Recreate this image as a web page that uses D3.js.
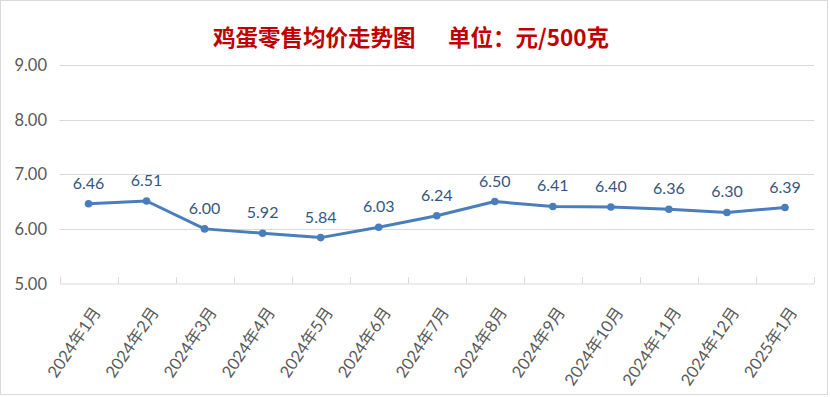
<!DOCTYPE html>
<html><head><meta charset="utf-8">
<script src="https://cdn.jsdelivr.net/npm/d3@7"></script>
<style>body{margin:0;background:#fff}</style>
</head><body>
<svg id="c" width="830" height="397"></svg>
<script>
const categories = ["2024年1月","2024年2月","2024年3月","2024年4月","2024年5月","2024年6月","2024年7月","2024年8月","2024年9月","2024年10月","2024年11月","2024年12月","2025年1月"];
const prices = [6.46,6.51,6.00,5.92,5.84,6.03,6.24,6.50,6.41,6.40,6.36,6.30,6.39];
const yTicks = [5,6,7,8,9];
const title = "鸡蛋零售均价走势图　  单位：元/500克";

const svg = d3.select("#c");
svg.append("rect").attr("x",0.5).attr("y",0.5).attr("width",827).attr("height",394)
  .attr("fill","#fff").attr("stroke","#d9d9d9");

const x = d3.scaleBand().domain(categories).range([59.5,814]);
const y = d3.scaleLinear().domain([5,9]).range([283.5,65]);

svg.append("text").attr("x",411).attr("y",46).attr("text-anchor","middle")
  .attr("font-family","'Noto Sans CJK SC'").attr("font-weight","bold").attr("font-size",22.5)
  .attr("fill","#C00000").attr("xml:space","preserve").style("white-space","pre").text(title);

// gridlines
svg.append("g").selectAll("line").data(yTicks.filter(d=>d>5)).join("line")
  .attr("x1",59.5).attr("x2",814).attr("y1",d=>Math.round(y(d))+0.5).attr("y2",d=>Math.round(y(d))+0.5)
  .attr("stroke","#d9d9d9").attr("stroke-width",1);

// y labels
svg.append("g").selectAll("text").data(yTicks).join("text")
  .attr("x",47).attr("y",d=>y(d)+6).attr("text-anchor","end")
  .attr("font-family","Lato, 'Open Sans', sans-serif").attr("font-size",16.5).attr("fill","#595959")
  .text(d=>d.toFixed(2));

// x axis
const xAxis = d3.axisBottom(x).tickSize(0).tickFormat("");
const ax = svg.append("g").attr("transform","translate(0,283.5)").call(xAxis);
ax.select(".domain").attr("stroke","#d9d9d9");
const bounds = categories.map(c=>x(c)).concat([x.range()[1]]);
svg.append("g").selectAll("line").data(bounds).join("line")
  .attr("x1",d=>Math.round(d)+0.5).attr("x2",d=>Math.round(d)+0.5).attr("y1",283.5).attr("y2",277)
  .attr("stroke","#d9d9d9");

svg.append("g").selectAll("text").data(categories).join("text")
  .attr("transform",d=>`translate(${x(d)+x.bandwidth()/2+13},${312}) rotate(-56)`)
  .attr("text-anchor","end")
  .attr("font-family","Lato, 'Noto Sans CJK SC', sans-serif").attr("font-size",16.5).attr("fill","#595959")
  .text(d=>d);

// line
const cx = (d,i)=>x(categories[i])+x.bandwidth()/2;
svg.append("path").datum(prices)
  .attr("d",d3.line().x(cx).y(d=>y(d)))
  .attr("fill","none").attr("stroke","#4A7EBB").attr("stroke-width",3).attr("stroke-linejoin","round");
svg.append("g").selectAll("circle").data(prices).join("circle")
  .attr("cx",cx).attr("cy",d=>y(d)).attr("r",3.8).attr("fill","#4A7EBB");
svg.append("g").selectAll("text").data(prices).join("text")
  .attr("x",cx).attr("y",d=>y(d)-15).attr("text-anchor","middle")
  .attr("font-family","Lato, 'Open Sans', sans-serif").attr("font-size",16).attr("fill","#35577F")
  .text(d=>d.toFixed(2));
</script>
</body></html>
